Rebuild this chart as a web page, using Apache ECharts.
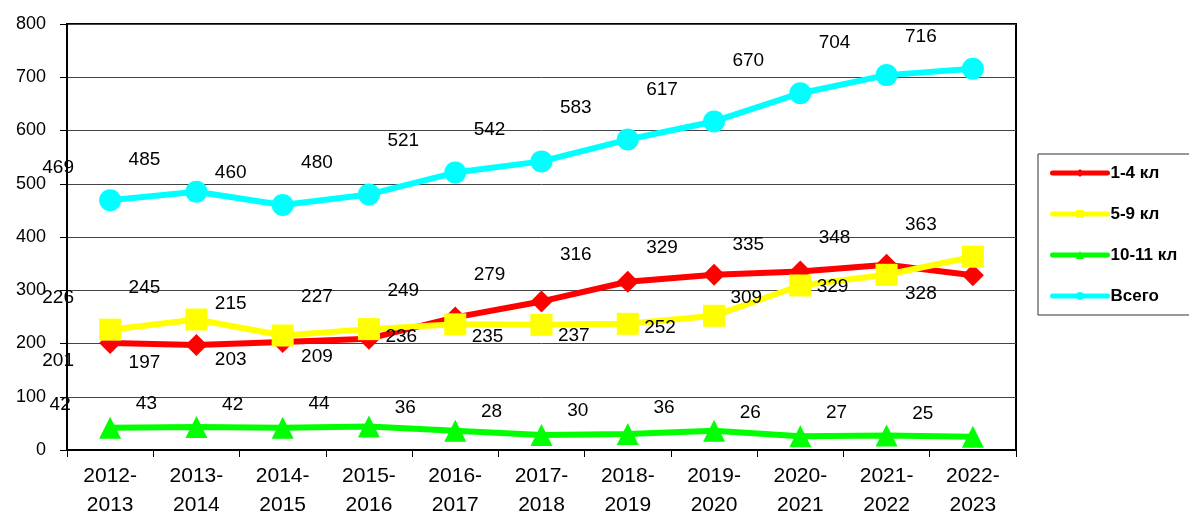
<!DOCTYPE html>
<html>
<head>
<meta charset="utf-8">
<script src="https://cdn.jsdelivr.net/npm/echarts@6/dist/echarts.min.js"></script>
<style>
  html, body { margin: 0; padding: 0; background: #fff; }
  #main { width: 1189px; height: 511px; }
</style>
</head>
<body>
<div id="main"></div>
<script>
var years = ['2012-\n2013', '2013-\n2014', '2014-\n2015', '2015-\n2016', '2016-\n2017', '2017-\n2018',
  '2018-\n2019', '2019-\n2020', '2020-\n2021', '2021-\n2022', '2022-\n2023'];
var grade14 = [201, 197, 203, 209, 249, 279, 316, 329, 335, 348, 328];
var grade59 = [226, 245, 215, 227, 236, 235, 237, 252, 309, 329, 363];
var grade1011 = [42, 43, 42, 44, 36, 28, 30, 36, 26, 27, 25];
var total = [469, 485, 460, 480, 521, 542, 583, 617, 670, 704, 716];
// where each value label sits: 1 = above, 0 = below
var side14 = [0, 0, 0, 0, 1, 1, 1, 1, 1, 1, 0];
var side59 = [1, 1, 1, 1, 0, 0, 0, 0, 0, 0, 1];

var font = '"Liberation Sans", Arial, sans-serif';

function lineSeries(name, color, symbol, size, data, sides, up, down) {
  return {
    name: name,
    type: 'line',
    data: data,
    symbol: symbol,
    symbolSize: size,
    lineStyle: { color: color, width: 6 },
    itemStyle: { color: color },
    label: {
      show: true,
      position: 'inside',
      color: '#000',
      fontFamily: font,
      fontSize: 19
    },
    labelLayout: function (params) {
      var above = sides ? sides[params.dataIndex] : 1;
      var off = above ? up : down;
      return { dx: off[0], dy: off[1], hideOverlap: false };
    },
    emphasis: { disabled: true },
    animation: false
  };
}

var chart = echarts.init(document.getElementById('main'));
chart.setOption({
  backgroundColor: '#fff',
  grid: {
    left: 67, right: 173, top: 24, bottom: 61,
    outerBoundsMode: 'none', containLabel: false,
    show: true, borderColor: '#000', borderWidth: 2
  },
  legend: {
    orient: 'vertical',
    left: 1038,
    top: 154,
    padding: [9, 60, 9, 12],
    itemWidth: 55,
    itemHeight: 10,
    itemGap: 21,
    borderColor: '#333',
    borderWidth: 1,
    lineStyle: { width: 5, cap: 'round' },
    textStyle: { fontFamily: font, fontSize: 17, fontWeight: 'bold', lineHeight: 20, color: '#000', padding: [0, 0, 0, -2] },
    data: ['1-4 кл', '5-9 кл', '10-11 кл', 'Всего']
  },
  xAxis: {
    type: 'category',
    data: years,
    boundaryGap: true,
    axisLine: { lineStyle: { color: '#000', width: 2 } },
    axisTick: { show: true, length: 7, lineStyle: { color: '#000', width: 1 } },
    axisLabel: { color: '#000', fontFamily: font, fontSize: 21, lineHeight: 29, margin: 12, interval: 0 }
  },
  yAxis: {
    type: 'value',
    min: 0,
    max: 800,
    interval: 100,
    axisLine: { show: true, lineStyle: { color: '#000', width: 2 } },
    axisTick: { show: true, length: 7, lineStyle: { color: '#000' } },
    axisLabel: { color: '#000', fontFamily: font, fontSize: 18, margin: 21 },
    splitLine: { lineStyle: { color: '#444', width: 1 } }
  },
  series: [
    lineSeries('1-4 кл', '#ff0000', 'diamond', 22, grade14, side14, [-52, -27], [-52, 18]),
    lineSeries('5-9 кл', '#ffff00', 'rect', 22, grade59, side59, [-52, -32], [-54, 12]),
    lineSeries('10-11 кл', '#00ff00', 'triangle', 22, grade1011, null, [-50, -23], [-50, -23]),
    lineSeries('Всего', '#00ffff', 'circle', 22, total, null, [-52, -32], [-52, -32])
  ]
});
</script>
</body>
</html>
